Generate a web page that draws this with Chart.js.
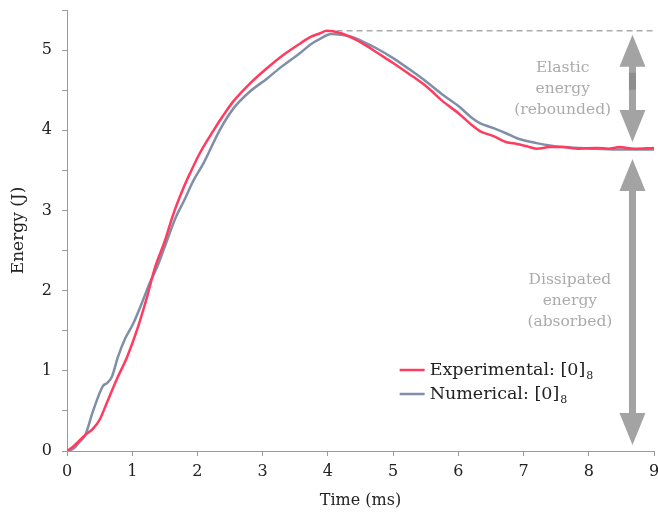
<!DOCTYPE html>
<html>
<head>
  <title>Energy vs time</title>
  <style>
    html, body { margin: 0; padding: 0; background: #fff; }
    #wrap { width: 658px; height: 516px; }
  </style>
</head>
<body>
  <div id="wrap"><canvas id="energyChart" width="658" height="516"></canvas></div>

  <script src="https://cdn.jsdelivr.net/npm/chart.js"></script>
  <script>
    // values
    const expTime = [0, 0.1, 0.28, 0.4, 0.5, 0.61, 0.76, 0.92, 1.07, 1.22, 1.35, 1.5, 1.62, 1.78, 1.89, 2.04, 2.24, 2.4, 2.55, 2.8, 3.06, 3.3, 3.57, 3.75, 3.88, 3.98, 4.2, 4.38, 4.6, 4.75, 5.0, 5.25, 5.52, 5.75, 6.02, 6.2, 6.33, 6.53, 6.74, 6.9, 7.05, 7.2, 7.4, 7.6, 7.85, 8.12, 8.3, 8.47, 8.7, 9.0];
    const expEnergy = [0, 0.06, 0.2, 0.28, 0.39, 0.6, 0.89, 1.17, 1.5, 1.9, 2.29, 2.62, 2.93, 3.27, 3.47, 3.72, 3.99, 4.19, 4.36, 4.58, 4.77, 4.93, 5.08, 5.17, 5.21, 5.24, 5.21, 5.15, 5.05, 4.97, 4.84, 4.7, 4.54, 4.37, 4.2, 4.07, 3.99, 3.93, 3.85, 3.83, 3.8, 3.77, 3.79, 3.79, 3.77, 3.78, 3.77, 3.79, 3.77, 3.78];

    const numTime = [0, 0.1, 0.2, 0.28, 0.4, 0.55, 0.62, 0.69, 0.78, 0.89, 1.01, 1.15, 1.27, 1.38, 1.5, 1.66, 1.8, 1.93, 2.1, 2.34, 2.55, 2.8, 3.06, 3.3, 3.57, 3.75, 3.88, 4.05, 4.2, 4.38, 4.6, 4.75, 5.0, 5.25, 5.52, 5.75, 6.02, 6.2, 6.33, 6.53, 6.74, 6.9, 7.2, 7.4, 7.6, 8.12, 8.5, 9.0];
    const numEnergy = [0, 0.03, 0.12, 0.2, 0.5, 0.81, 0.85, 0.93, 1.17, 1.4, 1.58, 1.85, 2.1, 2.29, 2.55, 2.9, 3.13, 3.36, 3.6, 4.0, 4.27, 4.48, 4.64, 4.8, 4.96, 5.08, 5.14, 5.2, 5.19, 5.16, 5.08, 5.02, 4.9, 4.76, 4.6, 4.45, 4.29, 4.16, 4.09, 4.03, 3.96, 3.9, 3.84, 3.81, 3.79, 3.77, 3.76, 3.76];

    const peakEnergy = 5.24;
    const peakTime = 3.98;
    const residualEnergy = 3.78;
    const arrowTime = 8.67;

    const xTicks = [0, 1, 2, 3, 4, 5, 6, 7, 8, 9];
    const seriesNames = ["Experimental: [0]", "Numerical: [0]"];
    const seriesSub = "8";

    const RED = "#ff3b60";
    const BLUE = "#7f8fa8";
    const FONT = "'DejaVu Serif', serif";

    const toPoints = (xs, ys) => xs.map((x, i) => ({ x: x, y: ys[i] }));

    const annotations = {
      id: "annotations",
      afterDatasetsDraw(chart) {
        const ctx = chart.ctx;
        const xs = chart.scales.x, ys = chart.scales.y;
        const ax = xs.getPixelForValue(arrowTime);
        const yPeak = ys.getPixelForValue(peakEnergy);
        const yRes = ys.getPixelForValue(residualEnergy);
        const yZero = ys.getPixelForValue(0);
        const headLen = 32, headW = 13, shaftW = 3.5;

        // single arrow: tip at yTip, tail at yTail
        function arrow(yTip, yTail) {
          const dir = yTail > yTip ? 1 : -1;
          ctx.beginPath();
          ctx.moveTo(ax, yTip);
          ctx.lineTo(ax + headW, yTip + dir * headLen);
          ctx.lineTo(ax + shaftW, yTip + dir * headLen);
          ctx.lineTo(ax + shaftW, yTail);
          ctx.lineTo(ax - shaftW, yTail);
          ctx.lineTo(ax - shaftW, yTip + dir * headLen);
          ctx.lineTo(ax - headW, yTip + dir * headLen);
          ctx.closePath();
          ctx.fill();
        }

        ctx.save();
        ctx.fillStyle = "rgba(137,137,137,0.78)";
        // elastic part: two overlapping arrows
        arrow(yPeak + 4, yPeak + 59);
        arrow(yRes - 6, yPeak + 42);
        // dissipated part: one double arrow
        const t = yRes + 11, b = yZero - 6;
        ctx.beginPath();
        ctx.moveTo(ax, t);
        ctx.lineTo(ax + headW, t + headLen);
        ctx.lineTo(ax + shaftW, t + headLen);
        ctx.lineTo(ax + shaftW, b - headLen);
        ctx.lineTo(ax + headW, b - headLen);
        ctx.lineTo(ax, b);
        ctx.lineTo(ax - headW, b - headLen);
        ctx.lineTo(ax - shaftW, b - headLen);
        ctx.lineTo(ax - shaftW, t + headLen);
        ctx.lineTo(ax - headW, t + headLen);
        ctx.closePath();
        ctx.fill();

        // labels
        ctx.fillStyle = "#ababab";
        ctx.font = "15.5px " + FONT;
        ctx.textAlign = "center";
        ctx.textBaseline = "middle";
        const lx1 = xs.getPixelForValue(7.6), ly1 = ys.getPixelForValue(4.51);
        ["Elastic", "energy", "(rebounded)"].forEach((s, i) => ctx.fillText(s, lx1, ly1 + (i - 1) * 21));
        const lx2 = xs.getPixelForValue(7.71), ly2 = ys.getPixelForValue(1.87);
        ["Dissipated", "energy", "(absorbed)"].forEach((s, i) => ctx.fillText(s, lx2, ly2 + (i - 1) * 21));

        // legend
        const gx = xs.getPixelForValue(5.1), gy = ys.getPixelForValue(1.01);
        [RED, BLUE].forEach((c, i) => {
          const y = gy + i * 24;
          ctx.strokeStyle = c;
          ctx.lineWidth = 2.5;
          ctx.beginPath();
          ctx.moveTo(gx, y);
          ctx.lineTo(gx + 25, y);
          ctx.stroke();
          ctx.fillStyle = "#222";
          ctx.textAlign = "left";
          ctx.font = "17.5px " + FONT;
          ctx.fillText(seriesNames[i], gx + 30, y);
          const w = ctx.measureText(seriesNames[i]).width;
          ctx.font = "11px " + FONT;
          ctx.fillText(seriesSub, gx + 31 + w, y + 6);
        });
        ctx.restore();
      }
    };

    new Chart(document.getElementById("energyChart").getContext("2d"), {
      type: "line",
      data: {
        datasets: [
          {
            label: seriesNames[0] + seriesSub,
            data: toPoints(expTime, expEnergy),
            borderColor: RED,
            borderWidth: 2.5,
            pointRadius: 0,
            cubicInterpolationMode: "monotone",
            fill: false
          },
          {
            label: seriesNames[1] + seriesSub,
            data: toPoints(numTime, numEnergy),
            borderColor: BLUE,
            borderWidth: 2.5,
            pointRadius: 0,
            cubicInterpolationMode: "monotone",
            fill: false
          },
          {
            label: "peak",
            data: [{ x: peakTime, y: peakEnergy }, { x: 9, y: peakEnergy }],
            borderColor: "#aaaaaa",
            borderWidth: 1.5,
            borderDash: [6, 4],
            pointRadius: 0,
            fill: false
          }
        ]
      },
      options: {
        responsive: false,
        animation: false,
        layout: { autoPadding: false, padding: { top: 10, right: 4, left: 0, bottom: 0 } },
        plugins: { legend: { display: false }, tooltip: { enabled: false } },
        scales: {
          x: {
            type: "linear",
            min: 0,
            max: 9,
            afterBuildTicks: s => { s.ticks = xTicks.map(v => ({ value: v })); },
            afterFit: s => { s.height = 65; s.paddingLeft = 0; s.paddingRight = 0; },
            ticks: { color: "#222", font: { family: FONT, size: 16 }, padding: 6, maxRotation: 0 },
            grid: { drawOnChartArea: false, drawTicks: true, tickLength: 5, color: "#9a9a9a" },
            border: { color: "#9a9a9a" },
            title: { display: true, text: "Time (ms)", color: "#222", font: { family: FONT, size: 16 }, padding: { top: 0, bottom: 6 } }
          },
          y: {
            min: 0,
            max: 5.5,
            afterFit: s => { s.width = 67; s.paddingTop = 0; s.paddingBottom = 0; },
            ticks: {
              stepSize: 0.5,
              autoSkip: false,
              color: "#222",
              font: { family: FONT, size: 16 },
              padding: 10,
              callback: v => Number.isInteger(v) ? v : ""
            },
            grid: { drawOnChartArea: false, drawTicks: true, tickLength: 5, color: "#9a9a9a" },
            border: { color: "#9a9a9a" },
            title: { display: true, text: "Energy (J)", color: "#222", font: { family: FONT, size: 17 }, padding: { top: 8, bottom: 0 } }
          }
        }
      },
      plugins: [annotations]
    });
  </script>
</body>
</html>
